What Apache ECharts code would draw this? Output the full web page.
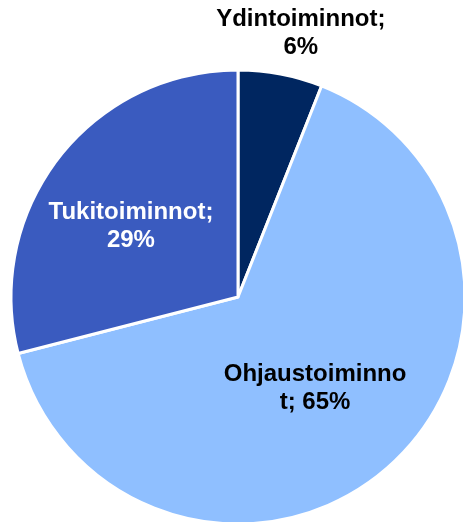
<!DOCTYPE html>
<html>
<head>
<meta charset="utf-8">
<script src="https://cdn.jsdelivr.net/npm/echarts@6/dist/echarts.min.js"></script>
<style>
  html, body { margin: 0; padding: 0; background: #fff; }
  #chart { width: 463px; height: 522px; }
</style>
</head>
<body>
<div id="chart"></div>
<script>
'use strict';

const names = ['Ydintoiminnot', 'Ohjaustoiminnot', 'Tukitoiminnot'];
const values = [6, 65, 29];
const labelTexts = ['Ydintoiminnot;\n6%', 'Ohjaustoiminno\nt; 65%', 'Tukitoiminnot;\n29%'];
const colors = ['#002660', '#8fbfff', '#3a5bbf'];
const labelColors = ['#000', '#000', '#fff'];
const labelOffsets = [[41, -149], [0, 4], [-15, 1]];

const data = names.map((n, i) => ({
  name: n,
  value: values[i],
  itemStyle: { color: colors[i] },
  label: { color: labelColors[i], offset: labelOffsets[i] }
}));

const chart = echarts.init(document.getElementById('chart'));
chart.setOption({
  animation: false,
  series: [{
    type: 'pie',
    center: [238, 297],
    radius: 227,
    startAngle: 90,
    clockwise: true,
    data: data,
    itemStyle: { borderColor: '#fff', borderWidth: 3 },
    label: {
      position: 'inside',
      fontFamily: 'Liberation Sans, Arial, sans-serif',
      fontWeight: 'bold',
      fontSize: 24,
      lineHeight: 28,
      align: 'center',
      formatter: p => labelTexts[p.dataIndex]
    },
    labelLine: { show: false },
    emphasis: { disabled: true }
  }]
});
</script>
</body>
</html>
